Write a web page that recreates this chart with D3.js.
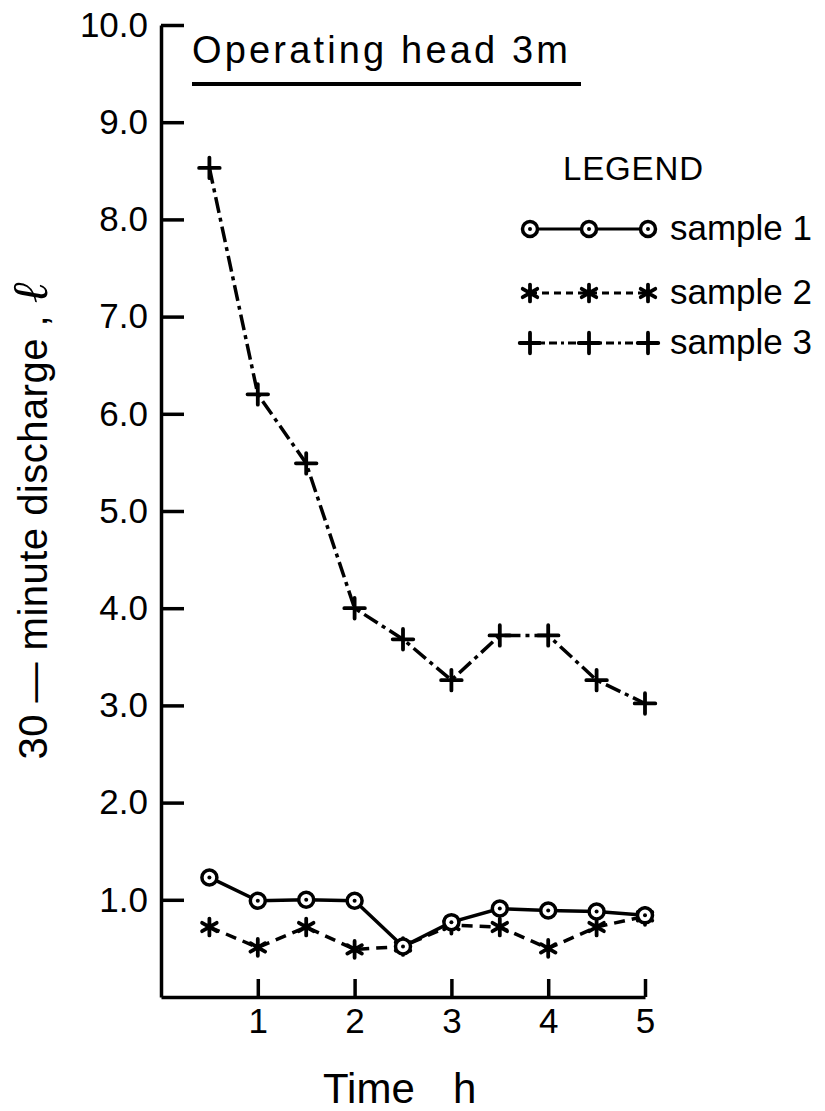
<!DOCTYPE html>
<html>
<head>
<meta charset="utf-8">
<script src="https://cdn.jsdelivr.net/npm/d3@7"></script>
<style>
  body { margin:0; background:#fff; }
  svg text { font-family: "Liberation Sans", Arial, sans-serif; fill:#000; }
</style>
</head>
<body>
<svg id="chart" width="825" height="1111"></svg>
<script>
// data
const hours = [0.5, 1, 1.5, 2, 2.5, 3, 3.5, 4, 4.5, 5];
const sample1 = [1.23, 0.99, 1.00, 0.99, 0.52, 0.77, 0.91, 0.89, 0.88, 0.84];
const sample2 = [0.72, 0.51, 0.72, 0.49, 0.52, 0.74, 0.72, 0.50, 0.72, 0.83];
const sample3 = [8.53, 6.20, 5.49, 4.00, 3.68, 3.26, 3.72, 3.72, 3.26, 3.02];

const xTicks = [1, 2, 3, 4, 5];
const yTicks = [1, 2, 3, 4, 5, 6, 7, 8, 9, 10];
const seriesNames = ["sample 1", "sample 2", "sample 3"];

const svg = d3.select("#chart");

const x = d3.scaleLinear().domain([0, 5]).range([161, 645]);
const y = d3.scaleLinear().domain([0, 10]).range([997, 25]);

// axes
svg.append("g")
  .attr("transform", "translate(" + x(0) + ",0)")
  .call(d3.axisLeft(y).tickValues(yTicks).tickFormat(d3.format(".1f"))
    .tickSizeInner(-23).tickSizeOuter(0).tickPadding(13))
  .call(g => g.selectAll("path,line").attr("stroke", "#000").attr("stroke-width", 3.5))
  .call(g => g.selectAll("text").attr("font-size", 35).attr("fill", "#000").attr("font-family", null));

svg.append("g")
  .attr("transform", "translate(0," + y(0) + ")")
  .call(d3.axisBottom(x).tickValues(xTicks).tickFormat(d3.format("d"))
    .tickSizeInner(-18).tickSizeOuter(0).tickPadding(11))
  .call(g => g.selectAll("path,line").attr("stroke", "#000").attr("stroke-width", 3.5))
  .call(g => g.selectAll("text").attr("font-size", 35).attr("fill", "#000").attr("font-family", null));

// axis titles
const yl = svg.append("text")
  .attr("transform", "translate(47,521) rotate(-90)")
  .attr("text-anchor", "middle")
  .attr("font-size", 40)
  .attr("textLength", 477)
  .attr("lengthAdjust", "spacing");
yl.append("tspan").text("30 \u2014 minute discharge , ");
yl.append("tspan").attr("font-family", "DejaVu Serif").attr("font-style", "italic")
  .attr("font-size", 50).text("\u2113");

const xt = svg.append("text")
  .attr("x", 323).attr("y", 1103)
  .attr("font-size", 42);
xt.append("tspan").text("Time");
xt.append("tspan").attr("x", 453).text("h");

// title with underline
svg.append("text")
  .attr("x", 192).attr("y", 63)
  .attr("font-size", 38)
  .attr("textLength", 376)
  .attr("lengthAdjust", "spacing")
  .text("Operating head 3m");
svg.append("line")
  .attr("x1", 192).attr("x2", 581).attr("y1", 84).attr("y2", 84)
  .attr("stroke", "#000").attr("stroke-width", 4);

// series styles
const styles = [
  {dash: null, marker: "circle"},
  {dash: "11,7", marker: "asterisk"},
  {dash: "16,5,4,5", marker: "plus"}
];

function drawMarker(g, kind, cx, cy) {
  if (kind === "circle") {
    g.append("circle").attr("cx", cx).attr("cy", cy).attr("r", 7.5)
      .attr("fill", "#fff").attr("stroke", "#000").attr("stroke-width", 3.5);
    g.append("circle").attr("cx", cx).attr("cy", cy).attr("r", 2).attr("fill", "#000");
  } else {
    const sym = kind === "asterisk" ? d3.symbol(d3.symbolAsterisk, 200) : d3.symbol(d3.symbolPlus, 140);
    g.append("path").attr("d", sym()).attr("transform", "translate(" + cx + "," + cy + ")")
      .attr("fill", "none").attr("stroke", "#000").attr("stroke-width", 3.8)
      .attr("stroke-linecap", "round");
  }
}

const series = [sample1, sample2, sample3];

const line = d3.line().x(d => x(d[0])).y(d => y(d[1]));

// draw 3 first, then 2, then 1 on top
[2, 1, 0].forEach(i => {
  const pts = hours.map((t, j) => [t, series[i][j]]);
  const g = svg.append("g").attr("class", "series s" + (i + 1));
  g.append("path").datum(pts)
    .attr("d", line)
    .attr("fill", "none").attr("stroke", "#000").attr("stroke-width", 3.5)
    .attr("stroke-dasharray", styles[i].dash);
  pts.forEach(p => drawMarker(g, styles[i].marker, x(p[0]), y(p[1])));
});

// legend
svg.append("text").attr("x", 563).attr("y", 180).attr("font-size", 33)
  .attr("textLength", 140).attr("lengthAdjust", "spacing").text("LEGEND");

const legendY = [229, 293, 343];
const lx = d3.scaleLinear().domain([0, 2]).range([530, 648]);
seriesNames.forEach((name, i) => {
  const g = svg.append("g").attr("class", "legend-item");
  g.append("line").attr("x1", lx(0)).attr("x2", lx(2)).attr("y1", legendY[i]).attr("y2", legendY[i])
    .attr("stroke", "#000").attr("stroke-width", 3).attr("stroke-dasharray", i === 2 ? "8,4,3,4" : (i === 1 ? "7,5" : null));
  [0, 1, 2].forEach(k => drawMarker(g, styles[i].marker, lx(k), legendY[i]));
  g.append("text").attr("x", 670).attr("y", legendY[i] + 11).attr("font-size", 35)
    .attr("textLength", 142).attr("lengthAdjust", "spacing").text(name);
});
</script>
</body>
</html>
